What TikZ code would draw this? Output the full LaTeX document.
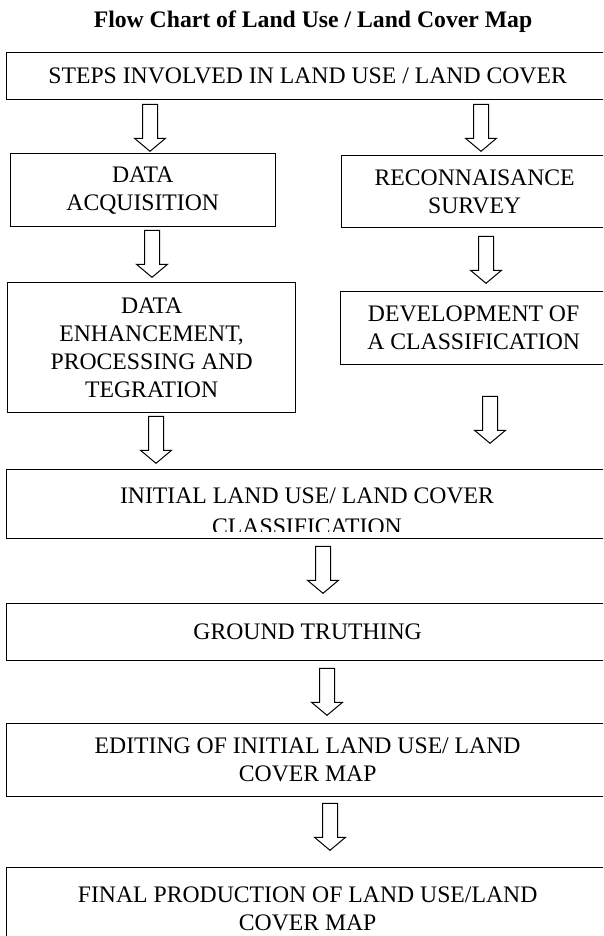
\documentclass[tikz,border=0pt]{standalone}
\usepackage{fontspec}
\setmainfont{Liberation Serif}
\usetikzlibrary{calc}
\begin{document}
\begin{tikzpicture}[x=1pt,y=-1pt,
        stage/.style={draw,line width=1.3pt,anchor=north west,align=center,inner sep=0pt,
            font=\fontsize{23.7}{28}\selectfont},
        hollowarrow/.pic={\draw [line width=1pt,fill=white] (-7.5,0) -- (-7.5,34) -- (-15.5,34) -- (0,47) -- (15.5,34) -- (7.5,34) -- (7.5,0) -- cycle;}]
        \useasboundingbox (0,0) rectangle (603,936);
        \clip (0,0) rectangle (603,936);
        \node [anchor=base,font=\bfseries\fontsize{23.7}{28}\selectfont] (title) at (313,28) {Flow Chart of Land Use / Land Cover Map};
        \node [stage,minimum width=602pt,minimum height=47pt] (steps) at (6,52) {STEPS INVOLVED IN LAND USE / LAND COVER};
        \node [stage,minimum width=265pt,minimum height=73pt] (acq) at (9.6,153) {DATA\\ACQUISITION};
        \node [stage,minimum width=266pt,minimum height=72pt] (recon) at (341,155) {RECONNAISANCE\\SURVEY};
        \node [stage,minimum width=288pt,minimum height=130pt] (enh) at (7,282) {DATA\\ENHANCEMENT,\\PROCESSING AND\\TEGRATION};
        \node [stage,minimum width=266pt,minimum height=73pt] (dev) at (340,291) {DEVELOPMENT OF\\A CLASSIFICATION};
        \node [stage,minimum width=602pt,minimum height=69pt] (initial) at (6,469) {};
        \begin{scope}
            \clip (initial.north west) rectangle ([yshift=8pt]initial.south east);
            \node [anchor=base,align=center,font=\fontsize{23.7}{31}\selectfont] (initialtext) at (307,534) {INITIAL LAND USE/ LAND COVER\\CLASSIFICATION};
        \end{scope}
        \node [stage,minimum width=602pt,minimum height=57pt] (ground) at (6,603) {GROUND TRUTHING};
        \node [stage,minimum width=602pt,minimum height=73pt] (editing) at (6,723) {EDITING OF INITIAL LAND USE/ LAND\\COVER MAP};
        \node [stage,minimum width=602pt,minimum height=82pt] (final) at (6,867) {FINAL PRODUCTION OF LAND USE/LAND\\COVER MAP};
        \pic at ($(steps.south -| 150,0)+(0,4)$) {hollowarrow};
        \pic at ($(steps.south -| 481,0)+(0,4)$) {hollowarrow};
        \pic at ($(acq.south -| 152,0)+(0,3)$) {hollowarrow};
        \pic at ($(recon.south -| 486,0)+(0,8)$) {hollowarrow};
        \pic at ($(enh.south -| 156,0)+(0,3)$) {hollowarrow};
        \pic at ($(dev.south -| 490,0)+(0,31)$) {hollowarrow};
        \pic at ($(initial.south -| 323,0)+(0,7)$) {hollowarrow};
        \pic at ($(ground.south -| 327,0)+(0,7)$) {hollowarrow};
        \pic at ($(editing.south -| 330,0)+(0,6)$) {hollowarrow};
    \end{tikzpicture}
\end{document}
